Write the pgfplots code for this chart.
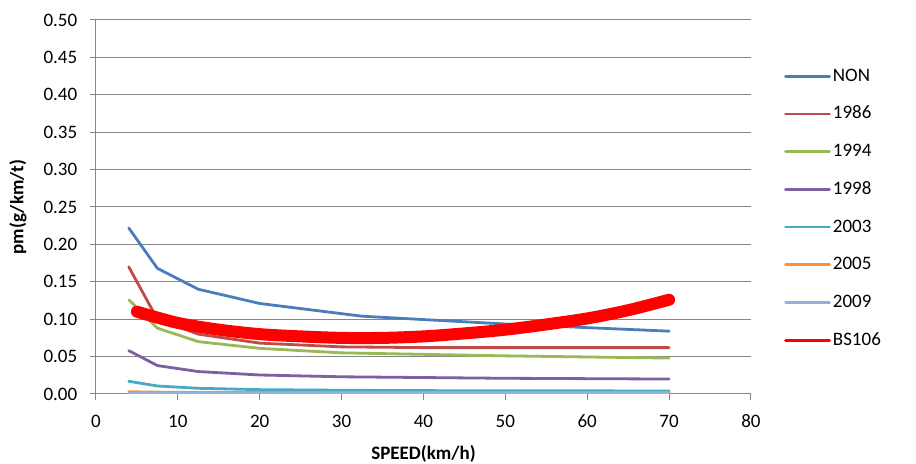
\documentclass[border=0pt]{standalone}
\usepackage{fontspec}
\setmainfont{Carlito}
\usepackage{pgfplots}
\pgfplotsset{compat=1.18}

\definecolor{axisgray}{HTML}{868686}
\definecolor{cNON}{HTML}{4A7EBB}
\definecolor{c1986}{HTML}{BE4B48}
\definecolor{c1994}{HTML}{98B954}
\definecolor{c1998}{HTML}{7D60A0}
\definecolor{c2003}{HTML}{46AAC5}
\definecolor{c2005}{HTML}{F69240}
\definecolor{c2009}{HTML}{95B3D7}

\begin{document}
\fontsize{9.5}{11}\selectfont
\begin{tikzpicture}
\useasboundingbox (0,0) rectangle (458pt,232pt);
\begin{axis}[at={(48pt,35pt)}, anchor=south west, scale only axis,
  width=327.5pt, height=187pt,
  xmin=0, xmax=80, ymin=0, ymax=0.5,
  xtick={0,10,20,30,40,50,60,70,80},
  ytick={0,0.05,0.10,0.15,0.20,0.25,0.30,0.35,0.40,0.45,0.50},
  axis lines*=left, axis line style={draw=axisgray, line width=0.5pt},
  tick style={draw=axisgray, line width=0.5pt}, tick align=outside, major tick length=3pt,
  ymajorgrids, grid style={draw=axisgray, line width=0.5pt},
  /pgf/number format/assume math mode=true,
  yticklabel style={xshift=-3pt, /pgf/number format/.cd, fixed, fixed zerofill, precision=2},
  xticklabel style={yshift=-4pt},
  xlabel={\textbf{SPEED(km/h)}}, ylabel={\textbf{pm(g/km/t)}},
  xlabel style={at={(axis description cs:0.5,-0.16)}, anchor=center},
  ylabel style={at={(axis description cs:-0.119,0.5)}, anchor=center},
  legend style={draw=none, fill=none, inner sep=0pt, at={(axis description cs:1.05,0.88)}, anchor=north west,
    row sep=7.85pt, nodes={inner sep=1pt, text height=7pt, text depth=2pt}},
  legend cell align=left,
  legend image code/.code={\draw[line width=1.4pt, #1] (0pt,0pt) -- (22pt,0pt);},
  every axis plot/.append style={line width=1.4pt, line cap=round, line join=round, mark=none},
]
\addplot[cNON] coordinates {(4,0.222)(7.5,0.168)(12.5,0.140)(20,0.121)(32.5,0.104)(40,0.0995)(50,0.0936)(60,0.0887)(70,0.084)};
\addplot[c1986] coordinates {(4,0.170)(7.5,0.100)(12.5,0.080)(20,0.068)(30,0.063)(40,0.062)(50,0.062)(60,0.062)(70,0.062)};
\addplot[c1994] coordinates {(4,0.126)(7.5,0.088)(12.5,0.070)(20,0.061)(30,0.055)(40,0.053)(50,0.051)(60,0.0495)(70,0.048)};
\addplot[c1998] coordinates {(4,0.058)(7.5,0.038)(12.5,0.030)(20,0.0254)(30,0.023)(40,0.022)(50,0.021)(60,0.0205)(70,0.020)};
\addplot[c2003] coordinates {(4,0.017)(7.5,0.0107)(12.5,0.0076)(20,0.0058)(30,0.005)(40,0.0045)(50,0.0043)(60,0.0042)(70,0.004)};
\addplot[c2005] coordinates {(4,0.003)(7.5,0.0025)(12.5,0.002)(20,0.002)(30,0.002)(40,0.002)(50,0.002)(60,0.002)(70,0.002)};
\addplot[c2009] coordinates {(4,0.001)(7.5,0.001)(12.5,0.001)(20,0.001)(30,0.001)(40,0.001)(50,0.001)(60,0.001)(70,0.001)};
\addplot[red, smooth, line width=6pt, legend image post style={line width=3.5pt}] coordinates {(5,0.110)(10,0.095)(15,0.086)(20,0.080)(25,0.077)(30,0.075)(35,0.075)(40,0.077)(45,0.081)(50,0.086)(55,0.093)(60,0.101)(65,0.112)(70,0.126)};
\legend{NON,1986,1994,1998,2003,2005,2009,BS106}
\end{axis}
\end{tikzpicture}
\end{document}
